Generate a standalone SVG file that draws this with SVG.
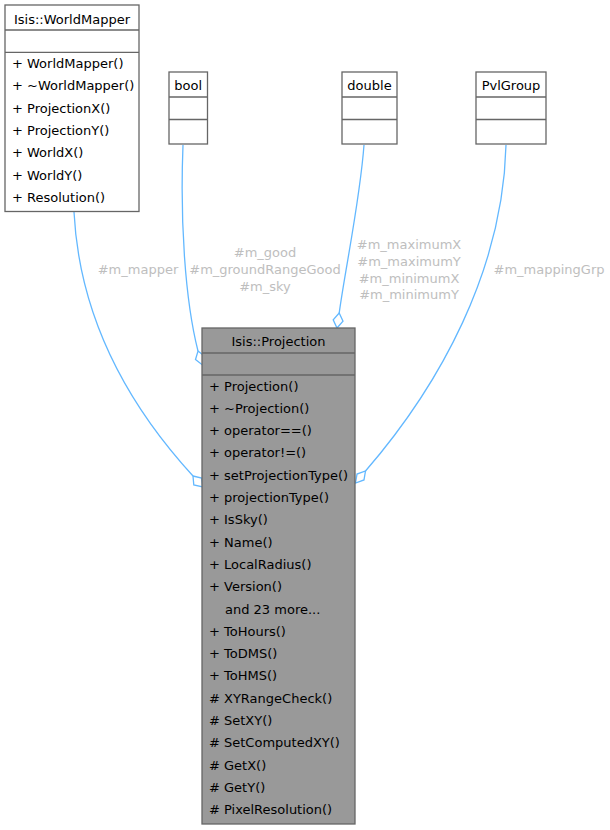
<svg xmlns="http://www.w3.org/2000/svg" width="610" height="830" viewBox="0 0 610 830">
<defs>
<style>
text{font-family:"DejaVu Sans","Liberation Sans",sans-serif;font-size:13px;fill:#000}
.box{fill:#fff;stroke:#666;stroke-width:1.3}
.main{fill:#999;stroke:#666;stroke-width:1.3}
.sep{stroke:#666;stroke-width:1.3;fill:none}
.edge{fill:none;stroke:#63b8ff;stroke-width:1.3}
.dia{fill:#fff;stroke:#63b8ff;stroke-width:1.3}
.lbl{fill:#bebebe;text-anchor:middle}
.mid{text-anchor:middle}
</style>
</defs>
<rect width="610" height="830" fill="#fff"/>
<g id="edges">
<path class="edge" d="M74,212 C80,330 139,417 193,476"/>
<polygon class="dia" points="193,476 201.6,478 202.7,487 193.8,485"/>
<text class="lbl" x="138" y="273.5">#m_mapper</text>
<path class="edge" d="M183,145 C180,220 185,300 198,351"/>
<polygon class="dia" points="198,351 205,356.5 202.5,365 195.5,359.5"/>
<text class="lbl" x="265" y="256.5">#m_good</text>
<text class="lbl" x="265" y="273.5">#m_groundRangeGood</text>
<text class="lbl" x="265" y="290.5">#m_sky</text>
<path class="edge" d="M364,145 C360,200 345,270 339.2,313"/>
<polygon class="dia" points="339.2,313 343,321.2 337,328 333.2,319.8"/>
<text class="lbl" x="409" y="248.5">#m_maximumX</text>
<text class="lbl" x="409" y="265.5">#m_maximumY</text>
<text class="lbl" x="409" y="282.5">#m_minimumX</text>
<text class="lbl" x="409" y="299">#m_minimumY</text>
<path class="edge" d="M506,145 C503,270 440,385 365.5,471"/>
<polygon class="dia" points="365.5,471 364,479.9 355.5,483 357,474.1"/>
<text class="lbl" x="549" y="273.5">#m_mappingGrp</text>
</g>
<g id="worldmapper">
<rect class="box" x="5" y="5" width="134" height="206.5"/>
<line class="sep" x1="5" y1="30" x2="139" y2="30"/>
<line class="sep" x1="5" y1="52.3" x2="139" y2="52.3"/>
<text class="mid" x="72" y="23.5">Isis::WorldMapper</text>
<text x="12" y="68">+ WorldMapper()</text>
<text x="12" y="90.3">+ ~WorldMapper()</text>
<text x="12" y="112.6">+ ProjectionX()</text>
<text x="12" y="134.9">+ ProjectionY()</text>
<text x="12" y="157.2">+ WorldX()</text>
<text x="12" y="179.5">+ WorldY()</text>
<text x="12" y="201.8">+ Resolution()</text>
</g>
<g id="bool">
<rect class="box" x="169" y="72" width="38.5" height="72"/>
<line class="sep" x1="169" y1="97" x2="207.5" y2="97"/>
<line class="sep" x1="169" y1="119.5" x2="207.5" y2="119.5"/>
<text class="mid" x="188.2" y="89.5">bool</text>
</g>
<g id="double">
<rect class="box" x="342" y="72" width="55" height="72"/>
<line class="sep" x1="342" y1="97" x2="397" y2="97"/>
<line class="sep" x1="342" y1="119.5" x2="397" y2="119.5"/>
<text class="mid" x="369.5" y="89.5">double</text>
</g>
<g id="pvlgroup">
<rect class="box" x="476" y="72" width="70" height="72"/>
<line class="sep" x1="476" y1="97" x2="546" y2="97"/>
<line class="sep" x1="476" y1="119.5" x2="546" y2="119.5"/>
<text class="mid" x="511" y="89.5">PvlGroup</text>
</g>
<g id="projection">
<rect class="main" x="202" y="328" width="153" height="496"/>
<line class="sep" x1="202" y1="353" x2="355" y2="353"/>
<line class="sep" x1="202" y1="375" x2="355" y2="375"/>
<text class="mid" x="278.5" y="345.5">Isis::Projection</text>
<text x="209" y="390.5">+ Projection()</text>
<text x="209" y="412.8">+ ~Projection()</text>
<text x="209" y="435.1">+ operator==()</text>
<text x="209" y="457.4">+ operator!=()</text>
<text x="209" y="479.7">+ setProjectionType()</text>
<text x="209" y="502">+ projectionType()</text>
<text x="209" y="524.3">+ IsSky()</text>
<text x="209" y="546.6">+ Name()</text>
<text x="209" y="568.9">+ LocalRadius()</text>
<text x="209" y="591.2">+ Version()</text>
<text x="225" y="613.5">and 23 more...</text>
<text x="209" y="635.8">+ ToHours()</text>
<text x="209" y="658.1">+ ToDMS()</text>
<text x="209" y="680.4">+ ToHMS()</text>
<text x="209" y="702.7"># XYRangeCheck()</text>
<text x="209" y="725"># SetXY()</text>
<text x="209" y="747.3"># SetComputedXY()</text>
<text x="209" y="769.6"># GetX()</text>
<text x="209" y="791.9"># GetY()</text>
<text x="209" y="814.2"># PixelResolution()</text>
</g>
</svg>
